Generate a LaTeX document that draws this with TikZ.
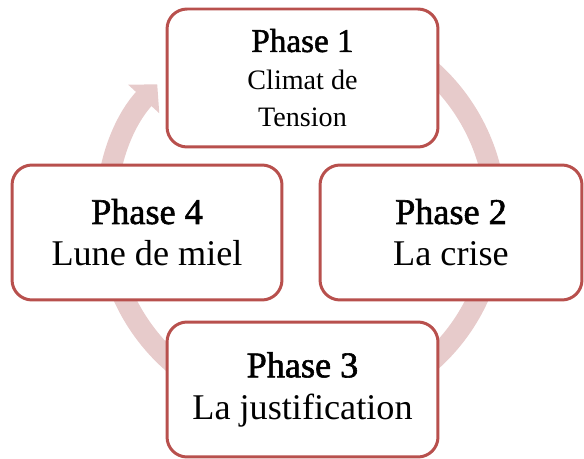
\documentclass[tikz,border=0pt]{standalone}
\usepackage{fontspec}
\setmainfont{Liberation Serif}
\newfontfamily\phasetitle[FakeBold=1.6]{Liberation Serif}
\usetikzlibrary{arrows.meta}
\definecolor{phaseborder}{RGB}{184,80,77}
\definecolor{cyclering}{RGB}{231,203,203}

\begin{document}
\begin{tikzpicture}[x=0.02cm, y=0.02cm,
		phasebox/.style={draw=phaseborder, line width=1.7pt, fill=white, rounded corners=0.4cm,
			align=center, inner sep=0pt, minimum height=2.7cm, font=\fontsize{20.6}{23.8}\selectfont}]
			% Canvas
			\useasboundingbox (0,0) rectangle (584,459);
			
			% Cycle arrow behind the phases
			\draw[cyclering, line width=0.42cm, -{Triangle[width=0.82cm, length=0.4cm]}]
				(301,243) ++(70:195) arc[start angle=70, end angle=-222.5, radius=195];
			
			% Phase 1 (top)
			\node[phasebox, minimum width=5.42cm, minimum height=2.76cm, font=\fontsize{16}{21.3}\selectfont]
				(phase1) at (302.5,381) {{\fontsize{18.9}{21.3}\phasetitle Phase 1}\\ Climat de\\ Tension};
			
			% Phase 2 (right)
			\node[phasebox, minimum width=5.24cm] (phase2) at (451,226.5) {{\phasetitle Phase 2}\\ La crise};
			
			% Phase 3 (bottom)
			\node[phasebox, minimum width=5.42cm] (phase3) at (302.5,69.5) {{\phasetitle Phase 3}\\ La justification};
			
			% Phase 4 (left)
			\node[phasebox, minimum width=5.4cm] (phase4) at (147,226.5) {{\phasetitle Phase 4}\\ Lune de miel};
			
		\end{tikzpicture}
\end{document}
